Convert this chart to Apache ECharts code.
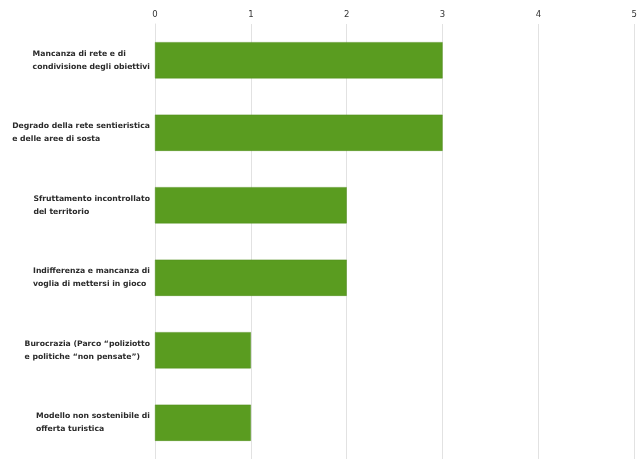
<!DOCTYPE html>
<html><head><meta charset="utf-8">
<script src="https://cdn.jsdelivr.net/npm/echarts@6/dist/echarts.min.js"></script>
<style>html,body{margin:0;padding:0;background:#fff}#c{width:640px;height:459px}</style>
</head><body><div id="c"></div>
<script>
const categories = [
  "Mancanza di rete e di\ncondivisione degli obiettivi",
  "Degrado della rete sentieristica\ne delle aree di sosta",
  "Sfruttamento incontrollato\ndel territorio",
  "Indifferenza e mancanza di\nvoglia di mettersi in gioco",
  "Burocrazia (Parco \u201cpoliziotto\ne politiche \u201cnon pensate\u201d)",
  "Modello non sostenibile di\nofferta turistica"
];
const values = [3, 3, 2, 2, 1, 1];
const xTicks = [0, 1, 2, 3, 4, 5];

const chart = echarts.init(document.getElementById('c'), null, {renderer: 'canvas'});
chart.setOption({
  animation: false,
  grid: {left: 155, right: 3, top: 24, bottom: 0, containLabel: false},
  xAxis: {
    type: 'value', position: 'top', min: xTicks[0], max: xTicks[xTicks.length - 1], interval: 1,
    axisLine: {show: false}, axisTick: {show: false},
    axisLabel: {color: '#333', fontSize: 8.5, fontFamily: 'DejaVu Sans', margin: 5},
    splitLine: {show: true, lineStyle: {color: '#e2e2e2', width: 1}}
  },
  yAxis: {
    type: 'category', inverse: true, data: categories,
    axisLine: {show: true, lineStyle: {color: '#e2e2e2'}}, axisTick: {show: false},
    axisLabel: {
      margin: 5, align: 'right',
      formatter: function (v) { return v.split('\n').map(s => '{a|' + s + '}').join('\n'); },
      rich: {a: {align: 'left', color: '#2a2a2a', fontSize: 7.7, fontWeight: 'bold', fontFamily: 'DejaVu Sans', lineHeight: 13}}
    }
  },
  series: [{
    type: 'bar', data: values, barCategoryGap: '50%',
    itemStyle: {color: '#5a9c20', borderColor: '#4f8c18', borderWidth: 0.5}
  }]
});
</script></body></html>
